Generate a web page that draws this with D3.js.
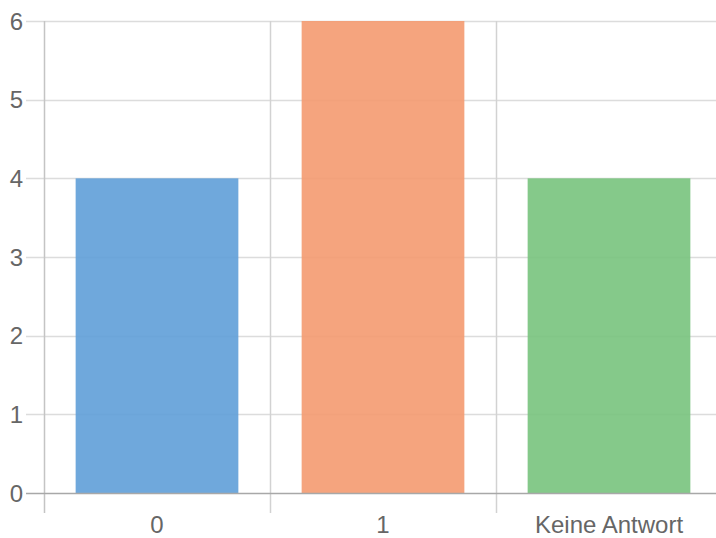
<!DOCTYPE html>
<html>
<head>
<meta charset="utf-8">
<script src="https://cdn.jsdelivr.net/npm/d3@7/dist/d3.min.js"></script>
<style>
  html, body { margin: 0; padding: 0; background: #fff; }
  svg { display: block; }
  text { font-family: "Liberation Sans", Arial, sans-serif; fill: #666; }
</style>
</head>
<body>
<script>
// Answer categories and how many responses each received
const categories = ["0", "1", "Keine Antwort"];
const counts = [4, 6, 4];
const barColors = ["#5f9fd8", "#f49a70", "#78c37d"];
const yTicks = [0, 1, 2, 3, 4, 5, 6];

const width = 716, height = 538;
const plot = { left: 44, right: 722, top: 21, bottom: 493 };

const svg = d3.select("body").append("svg")
  .attr("width", width).attr("height", height);

const x = d3.scaleBand()
  .domain(categories)
  .range([plot.left, plot.right])
  .paddingInner(0.28)
  .paddingOuter(0.14);

const y = d3.scaleLinear()
  .domain([0, 6])
  .range([plot.bottom, plot.top]);

const step = x.step();
const boundary = c => x(c) - step * x.paddingInner() / 2;

// horizontal grid lines with tick marks extending left of the axis
svg.append("g").selectAll("line")
  .data(yTicks.filter(d => d !== 0))
  .join("line")
  .attr("x1", 26).attr("x2", width)
  .attr("y1", d => Math.round(y(d)) + 0.5)
  .attr("y2", d => Math.round(y(d)) + 0.5)
  .attr("stroke", "#dcdcdc").attr("stroke-width", 1.5);

// vertical grid lines at category boundaries, with ticks below the baseline
svg.append("g").selectAll("line")
  .data(categories.filter((c, i) => i > 0))
  .join("line")
  .attr("x1", c => Math.round(boundary(c)) + 0.5)
  .attr("x2", c => Math.round(boundary(c)) + 0.5)
  .attr("y1", plot.top).attr("y2", 513)
  .attr("stroke", "#d2d2d2").attr("stroke-width", 1.5);

// bars
svg.append("g").selectAll("rect")
  .data(categories)
  .join("rect")
  .attr("x", c => x(c))
  .attr("width", x.bandwidth())
  .attr("y", (c, i) => y(counts[i]))
  .attr("height", (c, i) => y(0) - y(counts[i]))
  .attr("fill", (c, i) => barColors[i])
  .attr("fill-opacity", 0.9);

// left axis line and its tick below the baseline
svg.append("line")
  .attr("x1", plot.left + 0.5).attr("x2", plot.left + 0.5)
  .attr("y1", plot.top).attr("y2", 513)
  .attr("stroke", "#c4c4c4").attr("stroke-width", 1.5);

// zero baseline
svg.append("line")
  .attr("x1", 26).attr("x2", width)
  .attr("y1", Math.round(y(0)) + 0.5).attr("y2", Math.round(y(0)) + 0.5)
  .attr("stroke", "#a8a8a8").attr("stroke-width", 1.5);

// y tick labels
svg.append("g").selectAll("text")
  .data(yTicks)
  .join("text")
  .attr("x", 23)
  .attr("y", d => y(d))
  .attr("dy", "0.36em")
  .attr("text-anchor", "end")
  .attr("font-size", 24)
  .text(d => d);

// x category labels
svg.append("g").selectAll("text")
  .data(categories)
  .join("text")
  .attr("x", c => x(c) + x.bandwidth() / 2)
  .attr("y", 533)
  .attr("text-anchor", "middle")
  .attr("font-size", 24)
  .text(c => c);
</script>
</body>
</html>
